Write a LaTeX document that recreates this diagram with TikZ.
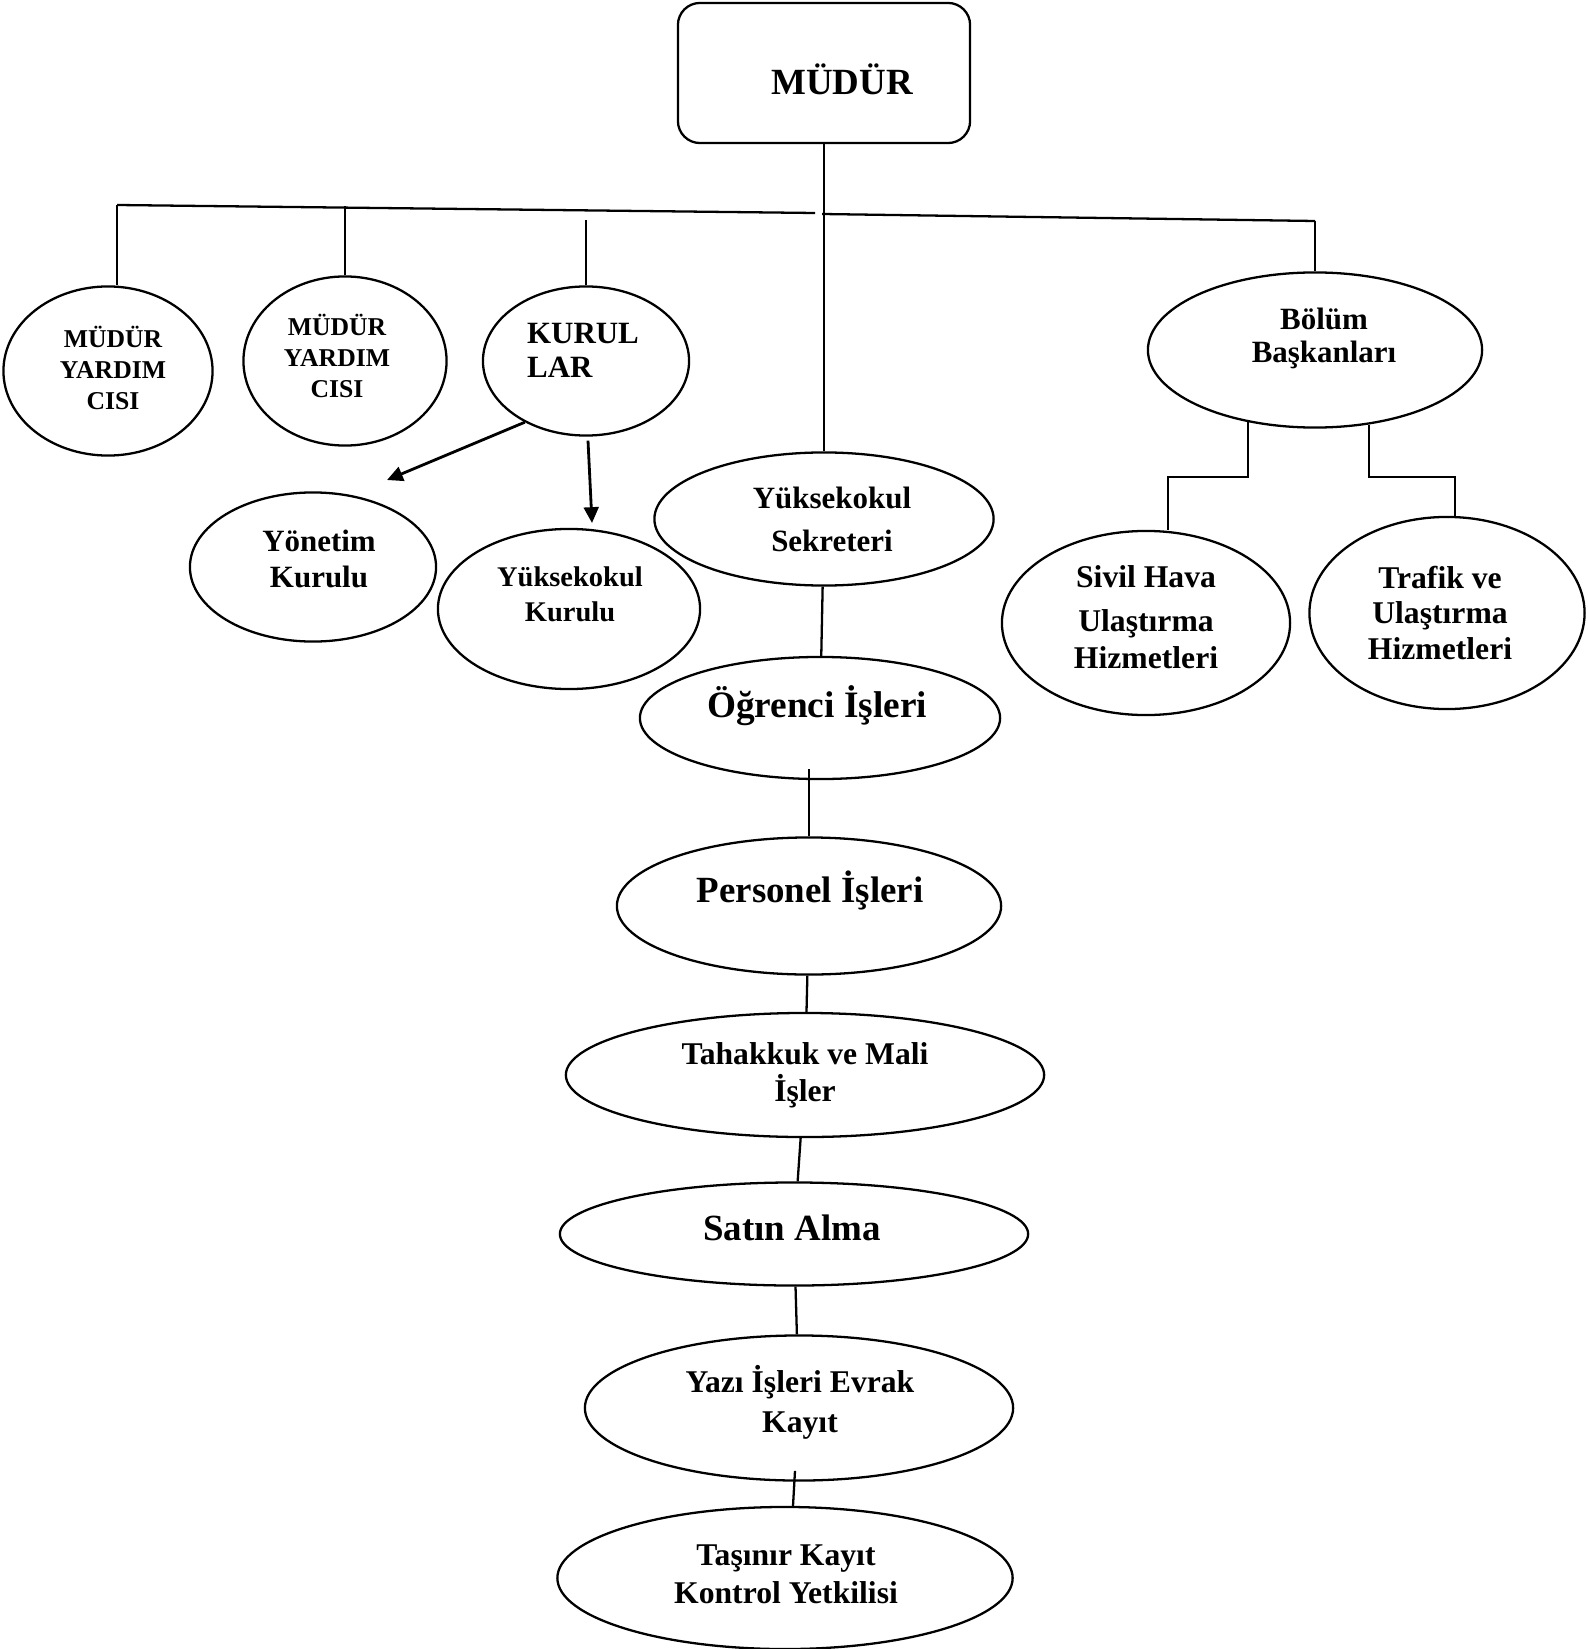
\documentclass[tikz,border=0pt]{standalone}
\usepackage{fontspec}
\setmainfont{Liberation Serif}
\usetikzlibrary{shapes.geometric, arrows.meta}

\newcommand{\bsz}[2]{\fontsize{#1}{#2}\selectfont\bfseries}

\tikzset{
	unit/.style={ellipse, draw, inner sep=0pt},
	head/.style={rectangle, draw, rounded corners=0.22cm, inner sep=0pt},
	lbl/.style={align=center},
}

\begin{document}
\begin{tikzpicture}[x=0.01cm, y=-0.01cm, line width=0.65pt, >={Triangle[length=4.5pt, width=4.2pt]}]
		\useasboundingbox (0,0) rectangle (1587,1649);
		% top
		\node[head, minimum width=2.92cm, minimum height=1.40cm, label={[lbl, font=\bsz{10.5}{12}, shift={(18,6)}]center:MÜDÜR}] (mudur) at (824,73) {};
		% first row
		\node[unit, minimum width=2.09cm, minimum height=1.69cm, label={[lbl, font=\bsz{7.3}{8.7}, shift={(5,-3)}]center:MÜDÜR\\YARDIM\\CISI}] (my1) at (108,371) {};
		\node[unit, minimum width=2.03cm, minimum height=1.69cm, label={[lbl, font=\bsz{7.3}{8.7}, shift={(-8,-5)}]center:MÜDÜR\\YARDIM\\CISI}] (my2) at (345,361) {};
		\node[unit, minimum width=2.06cm, minimum height=1.49cm, label={[align=left, font=\bsz{8.8}{9.7}, shift={(-3,-11)}]center:KURUL\\LAR}] (kurul) at (586,361) {};
		\node[unit, minimum width=3.34cm, minimum height=1.55cm, label={[lbl, font=\bsz{8.8}{9.4}, shift={(9,-12)}]center:Bölüm\\Başkanları}] (bolum) at (1315,350) {};
		% kurullar
		\node[unit, minimum width=2.46cm, minimum height=1.49cm, label={[lbl, font=\bsz{8.8}{10}, shift={(6,-8)}]center:Yönetim\\Kurulu}] (yonetim) at (313,567) {};
		\node[unit, minimum width=2.62cm, minimum height=1.60cm, label={[lbl, font=\bsz{8.1}{10}, shift={(1,-15)}]center:Yüksekokul\\Kurulu}] (ykurul) at (569,609) {};
		% bolumler
		\node[unit, minimum width=2.88cm, minimum height=1.84cm, label={[lbl, font=\bsz{9}{10.5}, shift={(0,-6)}]center:Sivil Hava\\[2pt]Ulaştırma\\Hizmetleri}] (sivil) at (1146,623) {};
		\node[unit, minimum width=2.75cm, minimum height=1.92cm, label={[lbl, font=\bsz{9}{10.2}, shift={(-7,0)}]center:Trafik ve\\Ulaştırma\\Hizmetleri}] (trafik) at (1447,613) {};
		% sekreterlik
		\node[unit, minimum width=3.39cm, minimum height=1.33cm, label={[lbl, font=\bsz{8.8}{12.2}, shift={(8,0)}]center:Yüksekokul\\Sekreteri}] (sekreter) at (824,519) {};
		\node[unit, minimum width=3.60cm, minimum height=1.22cm, label={[lbl, font=\bsz{10.6}{12}, shift={(-3,-12)}]center:Öğrenci İşleri}] (ogrenci) at (820,718) {};
		\node[unit, minimum width=3.84cm, minimum height=1.37cm, label={[lbl, font=\bsz{10.5}{12}, shift={(1,-16)}]center:Personel İşleri}] (personel) at (809,906) {};
		\node[unit, minimum width=4.78cm, minimum height=1.24cm, label={[lbl, font=\bsz{9}{10.5}, shift={(0,0)}]center:Tahakkuk ve Mali\\İşler}] (tahakkuk) at (805,1075) {};
		\node[unit, minimum width=4.68cm, minimum height=1.03cm, label={[lbl, font=\bsz{10.5}{12}, shift={(-2,-6)}]center:Satın Alma}] (satin) at (794,1234) {};
		\node[unit, minimum width=4.28cm, minimum height=1.45cm, label={[lbl, font=\bsz{9}{11.4}, shift={(1,-6)}]center:Yazı İşleri Evrak\\Kayıt}] (yazi) at (799,1408) {};
		\node[unit, minimum width=4.55cm, minimum height=1.42cm, label={[lbl, font=\bsz{9}{10.8}, shift={(1,-4)}]center:Taşınır Kayıt\\Kontrol Yetkilisi}] (tasinir) at (785,1578) {};
		% bus line
		\coordinate (bus-l) at (117,205);
		\coordinate (bus-m) at (815,213);
		\coordinate (bus-n) at (822,214);
		\coordinate (bus-r) at (1315,221);
		\draw (bus-l) -- (bus-m);
		\draw (bus-n) -- (bus-r);
		\draw (mudur) -- (sekreter);
		\draw (bus-l) -- (bus-l |- my1.north);
		\draw (my2.north) -- ++(0,-69);
		\draw (kurul.north) -- ++(0,-65);
		\draw (bus-r) -- (bolum.north);
		% arrows
		\coordinate (yon-tip) at (387,480);
		\coordinate (yk-tip) at (592,523);
		\draw[->, line width=0.8pt] (kurul.225) -- (yon-tip);
		\draw[->, line width=0.8pt] ([shift={(2,4)}]kurul.south) -- (yk-tip);
		% bolum baskanlari
		\coordinate (elbow-l) at (1168,477);
		\coordinate (elbow-r) at (1455,477);
		\draw (bolum.227) |- (elbow-l) -- (elbow-l |- sivil.north);
		\draw (bolum.306) |- (elbow-r) -- (elbow-r |- trafik.north);
		% chain
		\draw (sekreter) -- (ogrenci);
		\draw (personel.north) -- ++(0,-67);
		\draw (personel) -- (tahakkuk);
		\draw (tahakkuk) -- (satin);
		\draw (satin) -- (yazi);
		\draw ([shift={(8,0)}]tasinir.north) -- ++(2,-35);
\end{tikzpicture}
\end{document}
